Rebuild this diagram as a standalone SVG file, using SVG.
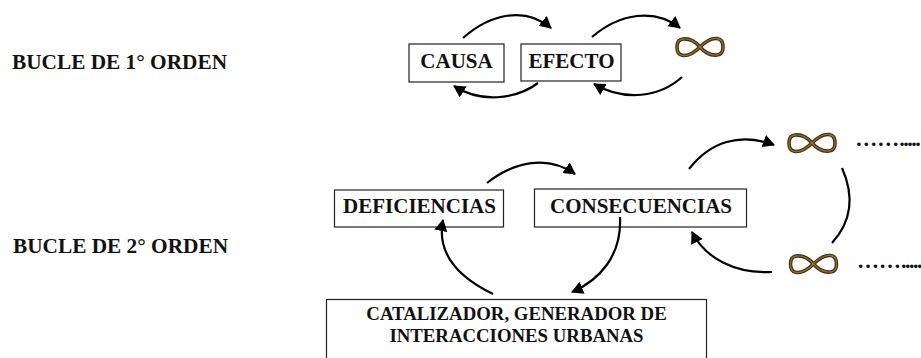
<svg xmlns="http://www.w3.org/2000/svg" width="921" height="358" viewBox="0 0 921 358">
<style>
text{font-family:"Liberation Serif","Times New Roman",serif;font-weight:bold;fill:#111}
.l{font-size:21.300px}
.n{font-size:21px;text-anchor:middle}
.c{font-size:18.800px;text-anchor:middle}
.d{font-size:22px}
.d tspan{letter-spacing:-1.500px}
.b{fill:#fff;stroke:#222;stroke-width:1.200}
.a{fill:none;stroke:#000;stroke-width:2.200}
.i{fill:none;stroke:#3f2b0e;stroke-width:3.600}
.i2{fill:none;stroke:#8f7238;stroke-width:1.300}
</style>
<defs>
<marker id="h" markerUnits="userSpaceOnUse" markerWidth="14" markerHeight="14" refX="11" refY="6.500" orient="auto"><path d="M0 0L12 6.500L0 13z" fill="#000"/></marker>
<path id="p" d="M0 0C-6 -7 -12 -8.500 -17 -8C-22 -7.500 -23 -3.500 -23 0C-23 3.500 -22 8 -17 8.500C-12 9 -6 6 0 0C6 -6 12 -9 17 -8.500C22 -8 23 -3.500 23 0C23 3.500 22 7.500 17 8C12 8.500 6 7 0 0Z"/>
<g id="inf"><use href="#p" class="i"/><use href="#p" class="i2"/></g>
</defs>
<text class="l" x="12" y="69">BUCLE DE 1° ORDEN</text>
<text class="l" x="13" y="253">BUCLE DE 2° ORDEN</text>
<g id="causa"><rect class="b" x="409" y="44" width="95" height="38"/><text class="n" x="456.500" y="68">CAUSA</text></g>
<g id="efecto"><rect class="b" x="521" y="44" width="100" height="37"/><text class="n" x="571.500" y="68">EFECTO</text></g>
<g id="deficiencias"><rect class="b" x="334.500" y="190" width="169" height="37"/><text class="n" x="419.500" y="213">DEFICIENCIAS</text></g>
<g id="consecuencias"><rect class="b" x="534.500" y="189" width="212" height="38"/><text class="n" x="641" y="213">CONSECUENCIAS</text></g>
<g id="catalizador"><rect class="b" x="326.500" y="299.500" width="380" height="70"/><text class="c" x="516.500" y="320">CATALIZADOR, GENERADOR DE</text><text class="c" x="516.500" y="342">INTERACCIONES URBANAS</text></g>
<g id="inf1"><use href="#inf" x="700" y="47"/></g>
<g id="inf2"><use href="#inf" x="812" y="143"/></g>
<g id="inf3"><use href="#inf" x="813.500" y="264"/></g>
<text class="d" x="855.300" y="146">……<tspan>.....</tspan></text>
<text class="d" x="857" y="268">……<tspan>.....</tspan></text>
<g id="connectors">
<path class="a" marker-end="url(#h)" d="M463 38C490 14 525 6 551 28"/>
<path class="a" marker-end="url(#h)" d="M592 37C620 13 655 8 680 28"/>
<path class="a" marker-end="url(#h)" d="M538 83C515 100 480 103 454 86"/>
<path class="a" marker-end="url(#h)" d="M682 77C660 97 625 102 594 84"/>
<path class="a" marker-end="url(#h)" d="M487 183C515 161 548 155 575 174"/>
<path class="a" marker-end="url(#h)" d="M689 169C710 142 740 132 774 145"/>
<path class="a" d="M842 168C854 195 853 220 832 243"/>
<path class="a" marker-end="url(#h)" d="M772 272C735 274 705 258 692 232"/>
<path class="a" marker-end="url(#h)" d="M620 217C622 255 600 280 572 292"/>
<path class="a" marker-end="url(#h)" d="M493 294C460 278 436 255 443 220"/>
</g>
</svg>
